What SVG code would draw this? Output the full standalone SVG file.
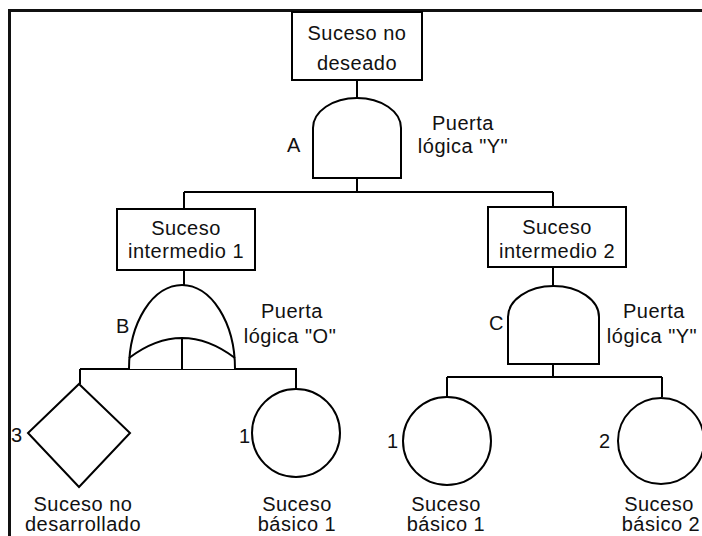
<svg xmlns="http://www.w3.org/2000/svg" width="702" height="536" viewBox="0 0 702 536">
<style>
.s{fill:#fff;stroke:#000;stroke-width:2}
.n{fill:none;stroke:#000;stroke-width:2}
.c{fill:none;stroke:#000;stroke-width:2}
text{font-family:"Liberation Sans",Arial,sans-serif;font-size:20px;fill:#111;letter-spacing:0.5px}
.m{text-anchor:middle}
</style>
<rect x="0" y="0" width="702" height="536" fill="#fff"/>
<g id="frame">
<path d="M9.5 536V10.5H702" fill="none" stroke="#111" stroke-width="3"/>
</g>
<g id="connectors">
<path class="c" d="M357 80V98"/>
<path class="c" d="M357 178V192M184 192H553M184 192V209M553 192V207"/>
<path class="c" d="M184 270V285"/>
<path class="c" d="M553 267V286"/>
<path class="c" d="M80 369H297M80 369V384M296 369V389"/>
<path class="c" d="M553 364V377M447 377H662M447 377V397M662 377V397"/>
</g>
<g id="top-event">
<rect class="s" x="292" y="12" width="130" height="68"/>
<text class="m" x="357" y="40">Suceso no</text>
<text class="m" x="357" y="70">deseado</text>
</g>
<g id="gate-A">
<path class="s" d="M313 178V128A44 30 0 0 1 401 128V178Z"/>
<text x="287" y="152">A</text>
<text class="m" x="463" y="130">Puerta</text>
<text class="m" x="463" y="153">lógica "Y"</text>
</g>
<g id="intermediate-1">
<rect class="s" x="117" y="209" width="138" height="61"/>
<text class="m" x="186" y="235">Suceso</text>
<text class="m" x="186" y="258">intermedio 1</text>
</g>
<g id="intermediate-2">
<rect class="s" x="488" y="207" width="138" height="60"/>
<text class="m" x="557" y="234">Suceso</text>
<text class="m" x="557" y="258">intermedio 2</text>
</g>
<g id="gate-B">
<path class="s" d="M129 369A53 84 0 0 1 235 369"/>
<path class="n" d="M129 358Q182 318 235 358M182 338V369"/>
<text x="116" y="333">B</text>
<text class="m" x="292" y="318">Puerta</text>
<text class="m" x="290" y="343">lógica "O"</text>
</g>
<g id="gate-C">
<path class="s" d="M508 364V317A45.5 31 0 0 1 599 317V364Z"/>
<text x="489" y="330">C</text>
<text class="m" x="654" y="318">Puerta</text>
<text class="m" x="652" y="343">lógica "Y"</text>
</g>
<g id="undeveloped-3">
<path class="s" d="M79 384L130 433L79 487L28 433Z"/>
<text x="11" y="442">3</text>
<text class="m" x="83" y="511">Suceso no</text>
<text class="m" x="83" y="531">desarrollado</text>
</g>
<g id="basic-1-left">
<circle class="s" cx="296" cy="433" r="44"/>
<text x="239" y="443">1</text>
<text class="m" x="297" y="511">Suceso</text>
<text class="m" x="297" y="531">básico 1</text>
</g>
<g id="basic-1-right">
<circle class="s" cx="447" cy="441" r="44"/>
<text x="387" y="448">1</text>
<text class="m" x="446" y="511">Suceso</text>
<text class="m" x="446" y="531">básico 1</text>
</g>
<g id="basic-2">
<circle class="s" cx="661" cy="441" r="43"/>
<text x="599" y="448">2</text>
<text class="m" x="659" y="511">Suceso</text>
<text class="m" x="661" y="531">básico 2</text>
</g>
</svg>
